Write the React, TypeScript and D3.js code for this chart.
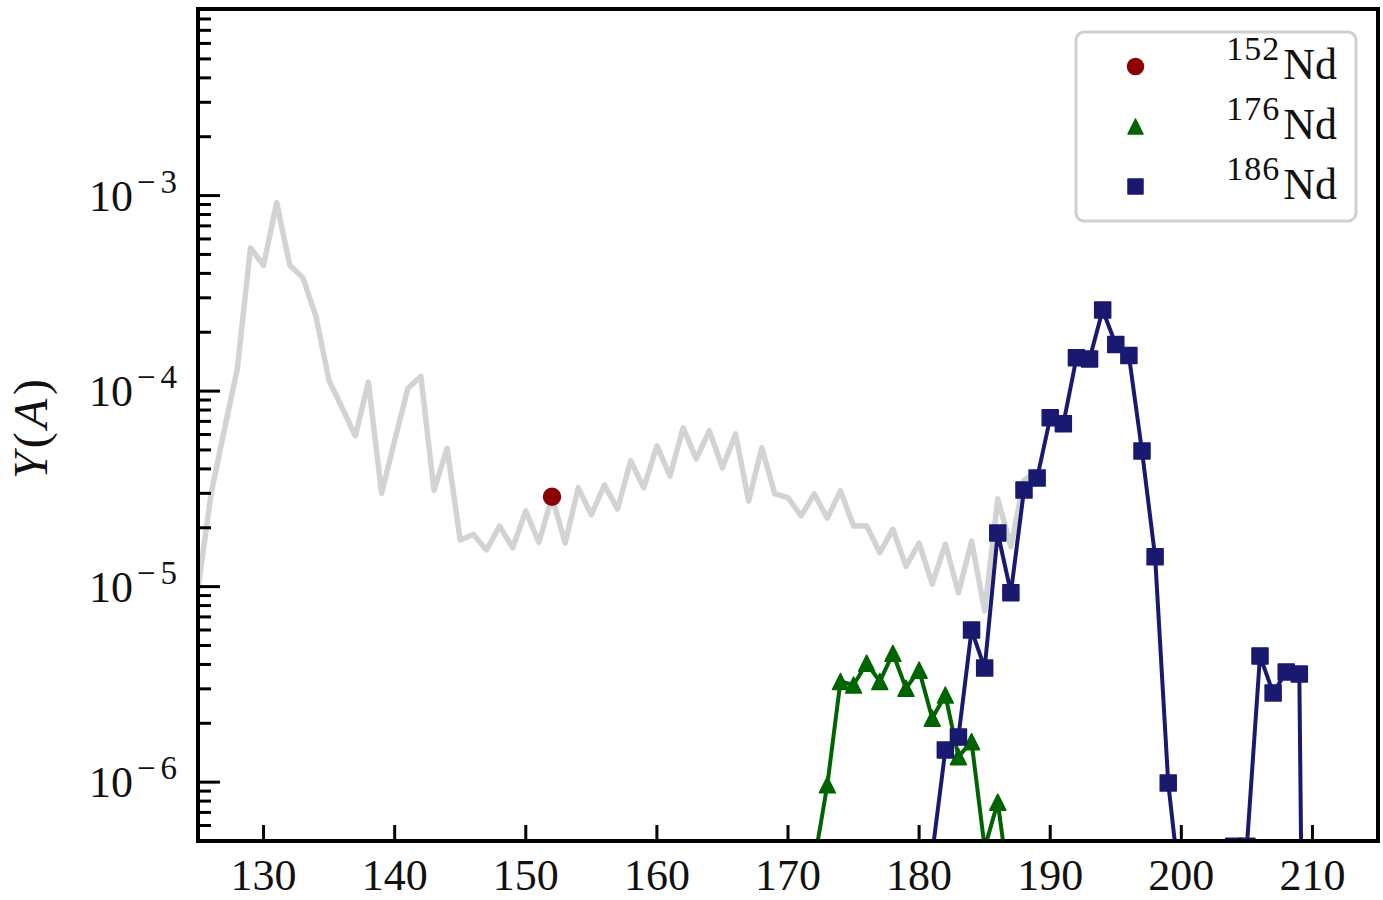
import * as d3 from 'd3';
import { useEffect, useRef } from 'react';

// mass numbers and yields
const baselineMass = [
  125, 126, 127, 128, 129, 130, 131, 132, 133, 134, 135, 136, 137, 138, 139,
  140, 141, 142, 143, 144, 145, 146, 147, 148, 149, 150, 151, 152, 153, 154,
  155, 156, 157, 158, 159, 160, 161, 162, 163, 164, 165, 166, 167, 168, 169,
  170, 171, 172, 173, 174, 175, 176, 177, 178, 179, 180, 181, 182, 183, 184,
  185, 186, 187, 188, 189,
];
const baselineYield = [
  9.7e-6, 3.0e-5, 6.3e-5, 1.3e-4, 5.4e-4, 4.4e-4, 9.2e-4, 4.4e-4, 3.8e-4, 2.4e-4,
  1.13e-4, 8.2e-5, 5.9e-5, 1.11e-4, 3.0e-5, 5.6e-5, 1.03e-4, 1.19e-4, 3.1e-5, 5.1e-5,
  1.73e-5, 1.85e-5, 1.54e-5, 2.04e-5, 1.58e-5, 2.44e-5, 1.68e-5, 2.88e-5, 1.67e-5, 3.2e-5,
  2.33e-5, 3.31e-5, 2.49e-5, 4.4e-5, 3.2e-5, 5.25e-5, 3.68e-5, 6.49e-5, 4.5e-5, 6.27e-5,
  4.05e-5, 6.04e-5, 2.74e-5, 5.13e-5, 2.98e-5, 2.85e-5, 2.3e-5, 2.98e-5, 2.24e-5, 3.09e-5,
  2.04e-5, 2.05e-5, 1.49e-5, 1.97e-5, 1.27e-5, 1.67e-5, 1.03e-5, 1.65e-5, 9.3e-6, 1.71e-5,
  7.5e-6, 2.81e-5, 1.6e-5, 3.5e-5, 3.9e-5,
];

const nd152Mass = [152];
const nd152Yield = [2.88e-5];

const nd176Mass = [172, 173, 174, 175, 176, 177, 178, 179, 180, 181, 182, 183, 184, 185, 186, 187];
const nd176Yield = [
  3.9e-7, 9.7e-7, 3.27e-6, 3.14e-6, 4.06e-6, 3.27e-6, 4.56e-6, 3.02e-6, 3.74e-6, 2.12e-6,
  2.79e-6, 1.35e-6, 1.61e-6, 4.6e-7, 7.9e-7, 2.5e-7,
];

const nd186Mass = [
  181, 182, 183, 184, 185, 186, 187, 188, 189, 190, 191, 192, 193, 194, 195, 196, 197, 198,
  199, 200, 201, 202, 203, 204, 205, 206, 207, 208, 209, 210,
];
const nd186Yield = [
  4.3e-7, 1.46e-6, 1.7e-6, 6.0e-6, 3.83e-6, 1.88e-5, 9.3e-6, 3.12e-5, 3.59e-5, 7.3e-5,
  6.8e-5, 1.48e-4, 1.46e-4, 2.6e-4, 1.73e-4, 1.52e-4, 4.94e-5, 1.42e-5, 9.9e-7, 2.5e-7,
  5e-8, 2e-8, 5e-8, 4.7e-7, 4.7e-7, 4.42e-6, 2.86e-6, 3.66e-6, 3.57e-6, 1e-12,
];

const xTickValues = [130, 140, 150, 160, 170, 180, 190, 200, 210];
const yMajorExponents = [-6, -5, -4, -3];

const legendItems = [
  { sup: '152', label: 'Nd', color: '#8b0000', shape: 'circle' },
  { sup: '176', label: 'Nd', color: '#006400', shape: 'triangle' },
  { sup: '186', label: 'Nd', color: '#191970', shape: 'square' },
];

const FONT = '"Liberation Serif", "DejaVu Serif", serif';
const W = 1383;
const H = 900;

type Shape = 'circle' | 'triangle' | 'square';

function markerPath(shape: Shape, r: number): string {
  if (shape === 'circle') {
    return d3.symbol(d3.symbolCircle, Math.PI * r * r)() || '';
  }
  if (shape === 'triangle') {
    return `M0,${-r}L${r},${r}L${-r},${r}Z`;
  }
  return `M${-r},${-r}H${r}V${r}H${-r}Z`;
}

const App = () => {
  const svgRef = useRef<SVGSVGElement>(null);

  useEffect(() => {
    if (!svgRef.current) return;
    const svg = d3.select(svgRef.current);
    svg.selectAll('*').remove();

    const plot = { left: 198, right: 1378, top: 9, bottom: 841 };

    const x = d3.scaleLinear().domain([125, 215]).range([plot.left, plot.right]);
    const y = d3.scaleLog().domain([5e-7, 9e-3]).range([plot.bottom, plot.top]);

    svg
      .append('defs')
      .append('clipPath')
      .attr('id', 'plot-clip')
      .append('rect')
      .attr('x', plot.left)
      .attr('y', plot.top)
      .attr('width', plot.right - plot.left)
      .attr('height', plot.bottom - plot.top);

    svg.append('rect').attr('width', W).attr('height', H).attr('fill', '#fff');

    const area = svg.append('g').attr('clip-path', 'url(#plot-clip)');

    const line = d3
      .line<[number, number]>()
      .x((d) => x(d[0]))
      .y((d) => y(d[1]));

    const zip = (a: number[], b: number[]) => a.map((m, i) => [m, b[i]] as [number, number]);

    // light gray reference curve
    area
      .append('path')
      .attr('d', line(zip(baselineMass, baselineYield)))
      .attr('fill', 'none')
      .attr('stroke', '#d3d3d3')
      .attr('stroke-width', 5.5)
      .attr('stroke-linejoin', 'round');

    const series: { mass: number[]; vals: number[]; color: string; shape: Shape; lined: boolean }[] = [
      { mass: nd152Mass, vals: nd152Yield, color: '#8b0000', shape: 'circle', lined: false },
      { mass: nd176Mass, vals: nd176Yield, color: '#006400', shape: 'triangle', lined: true },
      { mass: nd186Mass, vals: nd186Yield, color: '#191970', shape: 'square', lined: true },
    ];

    series.forEach((s) => {
      const pts = zip(s.mass, s.vals);
      if (s.lined) {
        area
          .append('path')
          .attr('d', line(pts))
          .attr('fill', 'none')
          .attr('stroke', s.color)
          .attr('stroke-width', 4)
          .attr('stroke-linejoin', 'round');
      }
      area
        .selectAll(null)
        .data(pts)
        .join('path')
        .attr('transform', (d) => `translate(${x(d[0])},${y(d[1])})`)
        .attr('d', markerPath(s.shape, s.shape === 'circle' ? 8.5 : 8))
        .attr('fill', s.color)
        .attr('stroke', s.color)
        .attr('stroke-width', 1.5)
        .attr('stroke-linejoin', 'round');
    });

    // y ticks (inward), major + minor
    const yTicks = y.ticks();
    svg
      .append('g')
      .selectAll('line')
      .data(yTicks)
      .join('line')
      .attr('x1', plot.left)
      .attr('x2', (d) => {
        const isMajor = Math.abs(Math.log10(d) - Math.round(Math.log10(d))) < 1e-9;
        return plot.left + (isMajor ? 22 : 13);
      })
      .attr('y1', (d) => y(d))
      .attr('y2', (d) => y(d))
      .attr('stroke', '#000')
      .attr('stroke-width', 3);

    const yLabels = svg
      .append('g')
      .selectAll('text')
      .data(yMajorExponents)
      .join('text')
      .attr('x', 177)
      .attr('y', (d) => y(Math.pow(10, d)) + 15)
      .attr('text-anchor', 'end')
      .attr('font-family', FONT)
      .attr('font-size', 44)
      .attr('fill', '#111');
    yLabels.append('tspan').text('10');
    yLabels
      .append('tspan')
      .attr('dy', -18)
      .attr('dx', 4)
      .attr('font-size', 33)
      .text('\u2212');
    yLabels
      .append('tspan')
      .attr('dx', 5)
      .attr('font-size', 33)
      .text((d) => `${Math.abs(d)}`);

    // x ticks (inward)
    svg
      .append('g')
      .selectAll('line')
      .data(xTickValues)
      .join('line')
      .attr('x1', (d) => x(d))
      .attr('x2', (d) => x(d))
      .attr('y1', plot.bottom)
      .attr('y2', plot.bottom - 16)
      .attr('stroke', '#000')
      .attr('stroke-width', 3);

    svg
      .append('g')
      .selectAll('text')
      .data(xTickValues)
      .join('text')
      .attr('x', (d) => x(d))
      .attr('y', 890)
      .attr('text-anchor', 'middle')
      .attr('font-family', FONT)
      .attr('font-size', 44)
      .attr('fill', '#111')
      .text((d) => d);

    // frame
    svg
      .append('rect')
      .attr('x', plot.left)
      .attr('y', plot.top)
      .attr('width', plot.right - plot.left)
      .attr('height', plot.bottom - plot.top)
      .attr('fill', 'none')
      .attr('stroke', '#000')
      .attr('stroke-width', 4);

    // y axis label
    const yl = svg
      .append('text')
      .attr('transform', `translate(47,${(plot.top + plot.bottom) / 2 + 2}) rotate(-90)`)
      .attr('text-anchor', 'middle')
      .attr('font-family', FONT)
      .attr('font-size', 48)
      .attr('letter-spacing', 4)
      .attr('fill', '#111');
    yl.append('tspan').attr('font-style', 'italic').text('Y');
    yl.append('tspan').text('(');
    yl.append('tspan').attr('font-style', 'italic').text('A');
    yl.append('tspan').text(')');

    // legend
    const lg = svg.append('g');
    lg.append('rect')
      .attr('x', 1076)
      .attr('y', 32)
      .attr('width', 280)
      .attr('height', 189)
      .attr('rx', 8)
      .attr('fill', '#fff')
      .attr('fill-opacity', 0.85)
      .attr('stroke', '#d0d0d0')
      .attr('stroke-width', 3);

    legendItems.forEach((item, i) => {
      const cy = 66.5 + i * 60;
      lg.append('path')
        .attr('transform', `translate(1135.5,${cy})`)
        .attr('d', markerPath(item.shape as Shape, item.shape === 'circle' ? 8 : 7.5))
        .attr('fill', item.color)
        .attr('stroke', item.color)
        .attr('stroke-width', 1.5)
        .attr('stroke-linejoin', 'round');
      const t = lg
        .append('text')
        .attr('x', 1337)
        .attr('y', cy + 12)
        .attr('text-anchor', 'end')
        .attr('font-family', FONT)
        .attr('font-size', 44)
        .attr('fill', '#111');
      t.append('tspan').attr('font-size', 34).attr('letter-spacing', 1).attr('dy', -19).text(item.sup);
      t.append('tspan').attr('dx', 3).attr('dy', 19).text(item.label);
    });
  }, []);

  return (
    <div style={{ position: 'absolute', left: 0, top: 0 }}>
      <svg ref={svgRef} width={W} height={H} style={{ display: 'block' }} />
    </div>
  );
};

export default App;
